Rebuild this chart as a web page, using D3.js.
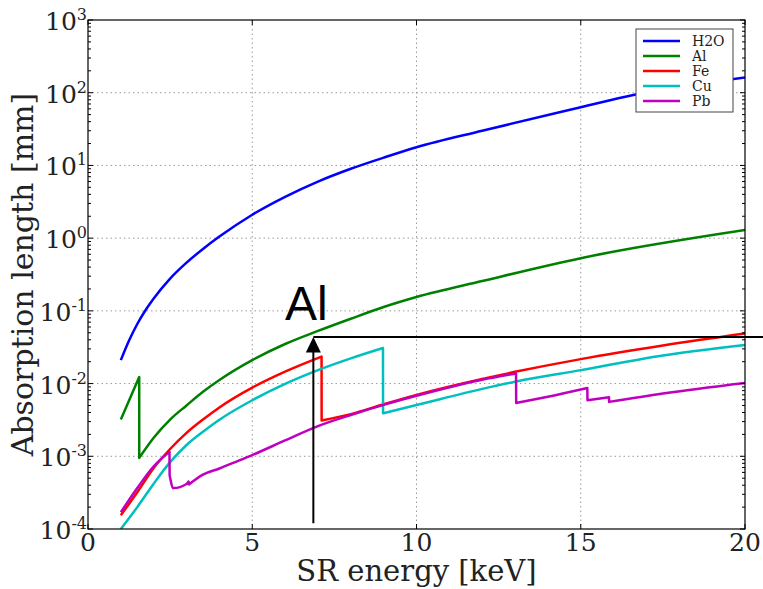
<!DOCTYPE html>
<html>
<head>
<meta charset="utf-8">
<script src="https://cdnjs.cloudflare.com/ajax/libs/d3/7.8.5/d3.min.js"></script>
<style>
  body { margin: 0; background: #fff; }
  svg { display: block; }
</style>
</head>
<body>
<svg id="chart" width="763" height="589"></svg>
<script>
// absorption length [mm] against SR energy [keV], as [energy, length] pairs
var h2o = [[1, 0.021], [1.25, 0.039], [1.5, 0.066], [1.75, 0.102], [2, 0.148], [2.5, 0.278],
  [3, 0.46], [3.5, 0.71], [4, 1.05], [5, 2.1], [6, 3.7], [7, 6.0], [8, 9.0], [9, 12.8],
  [10, 17.8], [12, 30], [15, 63], [16.6, 93], [20, 162]];

var al = [[1, 0.0032], [1.559, 0.0123], [1.56, 0.00095], [2, 0.0018], [2.5, 0.0032],
  [3, 0.005], [3.5, 0.0077], [4, 0.0112], [5, 0.021], [6, 0.035], [7, 0.053], [8, 0.078],
  [9, 0.113], [10, 0.155], [12, 0.257], [15, 0.53], [20, 1.29]];

var fe = [[1, 0.000155], [1.5, 0.00032], [2, 0.00069], [2.5, 0.00126], [3, 0.0021],
  [3.5, 0.0032], [4, 0.0047], [5, 0.0088], [6, 0.0146], [7.11, 0.0235], [7.112, 0.0031],
  [8, 0.0038], [9, 0.0052], [10, 0.0070], [12, 0.0116], [13, 0.0145], [15, 0.0217],
  [17.5, 0.0334], [20, 0.0488]];

var cu = [[1, 0.0001], [1.5, 0.0002], [2, 0.00042], [2.5, 0.00083], [3, 0.00143],
  [3.5, 0.00218], [4, 0.00318], [5, 0.0059], [6, 0.0099], [7, 0.0153], [8, 0.0222],
  [8.98, 0.0308], [8.982, 0.0039], [10, 0.00506], [12, 0.00845], [13, 0.0106],
  [15, 0.0153], [17.5, 0.0244], [20, 0.034]];

var pb = [[1, 0.00017], [1.5, 0.000366], [2, 0.00073], [2.48, 0.00115], [2.485, 0.00055],
  [2.6, 0.000365], [3.0, 0.000415], [3.06, 0.00045], [3.07, 0.00041], [3.5, 0.00056],
  [4, 0.00068], [4.5, 0.00084], [5, 0.00104], [6, 0.00165], [7, 0.0026], [8, 0.0037],
  [9, 0.0051], [10, 0.0068], [12, 0.0113], [13.03, 0.0138], [13.035, 0.0054],
  [14, 0.0066], [15.2, 0.0087], [15.205, 0.0059], [15.86, 0.0065], [15.865, 0.0056],
  [17.5, 0.0073], [20, 0.0102]];

var seriesNames = ['H2O', 'Al', 'Fe', 'Cu', 'Pb'];
var seriesColors = ['#0000ff', '#008000', '#ff0000', '#00bfbf', '#bf00bf'];

var xTicks = [0, 5, 10, 15, 20];
var yExponents = [-4, -3, -2, -1, 0, 1, 2, 3];

// the arrow + label pointing at the Al curve
var annoLabel = 'Al';
var annoEnergy = 6.86;
var annoTop = 0.0436;
var annoBottom = 1.2e-4;
var annoLabelAt = [6.0, 0.0746];

var width = 763, height = 589;
// note: "top" is taken by window.top, so plot edges get their own names
var plotL = 88, plotR = 745, plotT = 20, plotB = 529;
var serif = '"DejaVu Serif", serif';

var svg = d3.select('#chart');

var x = d3.scaleLinear().domain([0, 20]).range([plotL, plotR]);
var y = d3.scaleLog().domain([1e-4, 1e3]).range([plotB, plotT]);

svg.append('defs').append('clipPath').attr('id', 'plotclip')
  .append('rect')
  .attr('x', plotL).attr('y', plotT)
  .attr('width', plotR - plotL).attr('height', plotB - plotT);

// dotted grid
var grid = svg.append('g')
  .attr('stroke', '#9a9a9a')
  .attr('stroke-width', 1)
  .attr('stroke-dasharray', '1.5,3');

grid.selectAll('line.gx')
  .data(xTicks.slice(1, -1))
  .enter().append('line')
  .attr('x1', function(d) { return x(d); })
  .attr('x2', function(d) { return x(d); })
  .attr('y1', plotT).attr('y2', plotB);

grid.selectAll('line.gy')
  .data(yExponents.slice(1, -1))
  .enter().append('line')
  .attr('x1', plotL).attr('x2', plotR)
  .attr('y1', function(e) { return y(Math.pow(10, e)); })
  .attr('y2', function(e) { return y(Math.pow(10, e)); });

// curves: smooth between absorption edges, straight drop at each edge
var smooth = d3.line()
  .x(function(d) { return x(d[0]); })
  .y(function(d) { return y(d[1]); })
  .curve(d3.curveMonotoneX);

function edgePath(data) {
  var pieces = [[data[0]]];
  for (var i = 1; i < data.length; i++) {
    if (data[i][0] - data[i - 1][0] < 0.02) pieces.push([data[i]]);
    else pieces[pieces.length - 1].push(data[i]);
  }
  return pieces.map(function(p, j) {
    var d = smooth(p).replace(/Z$/, '');
    return j ? 'L' + d.slice(1) : d;
  }).join('');
}

var allSeries = [h2o, al, fe, cu, pb];

svg.append('g')
  .attr('clip-path', 'url(#plotclip)')
  .selectAll('path')
  .data(allSeries)
  .enter().append('path')
  .attr('d', edgePath)
  .attr('fill', 'none')
  .attr('stroke', function(d, i) { return seriesColors[i]; })
  .attr('stroke-width', 2.5)
  .attr('stroke-linejoin', 'round');

// ticks, pointing inwards on all four sides
var ticks = svg.append('g').attr('stroke', '#000').attr('stroke-width', 1);

xTicks.forEach(function(t) {
  ticks.append('line').attr('x1', x(t)).attr('x2', x(t)).attr('y1', plotB).attr('y2', plotB - 5);
  ticks.append('line').attr('x1', x(t)).attr('x2', x(t)).attr('y1', plotT).attr('y2', plotT + 5);
});

yExponents.forEach(function(e) {
  var v = Math.pow(10, e);
  ticks.append('line').attr('x1', plotL).attr('x2', plotL + 5).attr('y1', y(v)).attr('y2', y(v));
  ticks.append('line').attr('x1', plotR).attr('x2', plotR - 5).attr('y1', y(v)).attr('y2', y(v));
  if (e === 3) return;
  for (var k = 2; k <= 9; k++) {
    var m = k * v;
    ticks.append('line').attr('x1', plotL).attr('x2', plotL + 3).attr('y1', y(m)).attr('y2', y(m));
    ticks.append('line').attr('x1', plotR).attr('x2', plotR - 3).attr('y1', y(m)).attr('y2', y(m));
  }
});

// frame
svg.append('rect')
  .attr('x', plotL).attr('y', plotT)
  .attr('width', plotR - plotL).attr('height', plotB - plotT)
  .attr('fill', 'none')
  .attr('stroke', '#000')
  .attr('stroke-width', 1.2);

// tick labels
svg.append('g').selectAll('text')
  .data(xTicks)
  .enter().append('text')
  .attr('x', function(d) { return x(d); })
  .attr('y', plotB + 22)
  .attr('text-anchor', 'middle')
  .attr('font-family', serif)
  .attr('font-size', 25)
  .attr('fill', '#222')
  .text(function(d) { return d; });

var ylab = svg.append('g').selectAll('text')
  .data(yExponents)
  .enter().append('text')
  .attr('x', plotL - 1)
  .attr('y', function(e) { return y(Math.pow(10, e)) + 10; })
  .attr('text-anchor', 'end')
  .attr('font-family', serif)
  .attr('fill', '#222');
ylab.append('tspan').attr('font-size', 25).text('10');
ylab.append('tspan').attr('font-size', 16).attr('dy', -10)
  .text(function(e) { return String(e); });

// axis titles
svg.append('text')
  .attr('x', (plotL + plotR) / 2)
  .attr('y', 581)
  .attr('text-anchor', 'middle')
  .attr('font-family', serif)
  .attr('font-size', 29)
  .attr('fill', '#222')
  .text('SR energy [keV]');

svg.append('text')
  .attr('transform', 'translate(33,' + ((plotT + plotB) / 2) + ') rotate(-90)')
  .attr('text-anchor', 'middle')
  .attr('font-family', serif)
  .attr('font-size', 30)
  .attr('fill', '#222')
  .text('Absorption length [mm]');

// legend
var legend = svg.append('g').attr('transform', 'translate(636,29)');
legend.append('rect')
  .attr('width', 97).attr('height', 83)
  .attr('fill', '#fff')
  .attr('stroke', '#444')
  .attr('stroke-width', 1);

var rows = legend.selectAll('g.row')
  .data(seriesNames)
  .enter().append('g')
  .attr('transform', function(d, i) { return 'translate(0,' + (12 + i * 15) + ')'; });
rows.append('line')
  .attr('x1', 7).attr('x2', 44)
  .attr('stroke', function(d, i) { return seriesColors[i]; })
  .attr('stroke-width', 2.5);
rows.append('text')
  .attr('x', 56).attr('y', 5)
  .attr('font-family', serif)
  .attr('font-size', 14)
  .attr('fill', '#222')
  .text(function(d) { return d; });

// annotation
var ax = x(annoEnergy), ayTop = y(annoTop), ayBot = y(annoBottom);
svg.append('line')
  .attr('x1', ax).attr('x2', width)
  .attr('y1', ayTop).attr('y2', ayTop)
  .attr('stroke', '#000').attr('stroke-width', 2);
svg.append('line')
  .attr('x1', ax).attr('x2', ax)
  .attr('y1', ayBot).attr('y2', ayTop + 12)
  .attr('stroke', '#000').attr('stroke-width', 2);
svg.append('path')
  .attr('d', 'M' + ax + ',' + ayTop + 'L' + (ax - 7.5) + ',' + (ayTop + 15.5) +
    'L' + (ax + 7.5) + ',' + (ayTop + 15.5) + 'Z')
  .attr('fill', '#000');
svg.append('text')
  .attr('x', x(annoLabelAt[0]))
  .attr('y', y(annoLabelAt[1]))
  .attr('font-family', '"Liberation Sans", Arial, sans-serif')
  .attr('font-size', 48)
  .attr('fill', '#000')
  .text(annoLabel);
</script>
</body>
</html>
